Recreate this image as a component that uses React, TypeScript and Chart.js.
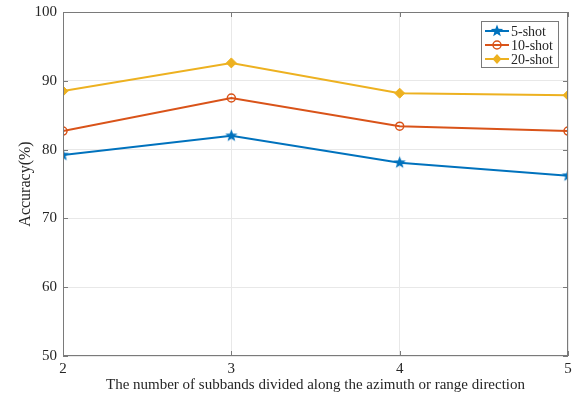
import React, { useEffect, useRef } from "react";
import { Chart, registerables } from "chart.js";

Chart.register(...registerables);

const xValues = [2, 3, 4, 5];
const shot5 = [79.2, 82.0, 78.1, 76.2];
const shot10 = [82.7, 87.5, 83.4, 82.7];
const shot20 = [88.5, 92.6, 88.2, 87.9];
const seriesLabels = ["5-shot", "10-shot", "20-shot"];
const colors = ["#0072BD", "#D95319", "#EDB120"];
const yTicks = [50, 60, 70, 80, 90, 100];

const FONT = "'Liberation Serif', 'Times New Roman', serif";

function makeStar(color: string, r: number) {
  const c = document.createElement("canvas");
  const s = Math.ceil(r * 2 + 2);
  c.width = s;
  c.height = s;
  const ctx = c.getContext("2d")!;
  const cx = s / 2, cy = s / 2;
  ctx.beginPath();
  for (let i = 0; i < 10; i++) {
    const rad = i % 2 === 0 ? r : r * 0.42;
    const a = -Math.PI / 2 + (i * Math.PI) / 5;
    const px = cx + rad * Math.cos(a);
    const py = cy + rad * Math.sin(a);
    if (i === 0) ctx.moveTo(px, py);
    else ctx.lineTo(px, py);
  }
  ctx.closePath();
  ctx.fillStyle = color;
  ctx.fill();
  return c;
}

function drawMarker(ctx: CanvasRenderingContext2D, kind: number, x: number, y: number, color: string) {
  ctx.save();
  ctx.strokeStyle = color;
  ctx.fillStyle = color;
  ctx.lineWidth = 1.5;
  if (kind === 0) {
    const r = 6.5;
    ctx.beginPath();
    for (let i = 0; i < 10; i++) {
      const rad = i % 2 === 0 ? r : r * 0.42;
      const a = -Math.PI / 2 + (i * Math.PI) / 5;
      const px = x + rad * Math.cos(a);
      const py = y + rad * Math.sin(a);
      if (i === 0) ctx.moveTo(px, py);
      else ctx.lineTo(px, py);
    }
    ctx.closePath();
    ctx.fill();
  } else if (kind === 1) {
    ctx.beginPath();
    ctx.arc(x, y, 4, 0, Math.PI * 2);
    ctx.stroke();
  } else {
    ctx.beginPath();
    ctx.moveTo(x, y - 5);
    ctx.lineTo(x + 4.5, y);
    ctx.lineTo(x, y + 5);
    ctx.lineTo(x - 4.5, y);
    ctx.closePath();
    ctx.fill();
  }
  ctx.restore();
}

const framePlugin = {
  id: "frame",
  afterDatasetsDraw(chart: any) {
    const { ctx, chartArea } = chart;
    const { left, right, top, bottom } = chartArea;
    ctx.save();
    ctx.strokeStyle = "#7a7a7a";
    ctx.lineWidth = 1;
    ctx.strokeRect(left + 0.5, top + 0.5, right - left - 1, bottom - top - 1);
    const xs = chart.scales.x;
    const ys = chart.scales.y;
    ctx.beginPath();
    xValues.forEach((v) => {
      const px = Math.round(xs.getPixelForValue(v)) + 0.5;
      ctx.moveTo(px, bottom);
      ctx.lineTo(px, bottom - 5);
      ctx.moveTo(px, top);
      ctx.lineTo(px, top + 5);
    });
    yTicks.forEach((v) => {
      const py = Math.round(ys.getPixelForValue(v)) + 0.5;
      ctx.moveTo(left, py);
      ctx.lineTo(left + 5, py);
      ctx.moveTo(right, py);
      ctx.lineTo(right - 5, py);
    });
    ctx.stroke();

    const bx = 481, by = 21, bw = 77, bh = 46;
    ctx.fillStyle = "#ffffff";
    ctx.fillRect(bx, by, bw, bh);
    ctx.strokeStyle = "#7a7a7a";
    ctx.strokeRect(bx + 0.5, by + 0.5, bw, bh);
    ctx.font = `14px ${FONT}`;
    ctx.textBaseline = "middle";
    seriesLabels.forEach((lab, i) => {
      const yy = by + 10 + i * 14;
      ctx.strokeStyle = colors[i];
      ctx.lineWidth = 2;
      ctx.beginPath();
      ctx.moveTo(bx + 4, yy);
      ctx.lineTo(bx + 28, yy);
      ctx.stroke();
      drawMarker(ctx, i, bx + 16, yy, colors[i]);
      ctx.fillStyle = "#262626";
      ctx.fillText(lab, bx + 30, yy + 1);
    });
    ctx.restore();
  },
};

export default function App() {
  const ref = useRef<HTMLCanvasElement | null>(null);
  useEffect(() => {
    document.body.style.margin = "0";
    const canvas = ref.current!;
    const star = makeStar(colors[0], 6.5);
    const mk = (vals: number[]) => vals.map((v, i) => ({ x: xValues[i], y: v }));
    const chart = new Chart(canvas, {
      type: "line",
      data: {
        datasets: [
          {
            label: seriesLabels[0],
            data: mk(shot5),
            borderColor: colors[0],
            backgroundColor: colors[0],
            borderWidth: 2,
            pointStyle: star as any,
            pointRadius: 6,
          },
          {
            label: seriesLabels[1],
            data: mk(shot10),
            borderColor: colors[1],
            backgroundColor: "rgba(0,0,0,0)",
            borderWidth: 2,
            pointStyle: "circle",
            pointRadius: 4,
            pointBorderWidth: 1.5,
          },
          {
            label: seriesLabels[2],
            data: mk(shot20),
            borderColor: colors[2],
            backgroundColor: colors[2],
            borderWidth: 2,
            pointStyle: "rectRot",
            pointRadius: 5,
            pointBorderWidth: 1,
          },
        ],
      },
      options: {
        animation: false,
        responsive: false,
        maintainAspectRatio: false,
        layout: { padding: { top: 12, right: 4, left: 0, bottom: 0 } },
        plugins: { legend: { display: false }, tooltip: { enabled: false } },
        scales: {
          x: {
            type: "linear",
            min: 2,
            max: 5,
            afterFit: (s: any) => {
              s.height = 41;
              s.paddingLeft = 0;
              s.paddingRight = 0;
            },
            afterBuildTicks: (s: any) => {
              s.ticks = xValues.map((v) => ({ value: v }));
            },
            ticks: {
              font: { family: FONT, size: 15 },
              color: "#262626",
              padding: 4,
            },
            grid: { color: "#e8e8e8", drawTicks: false },
            border: { display: false },
            title: {
              display: true,
              text: "The number of subbands divided along the azimuth or range direction",
              font: { family: FONT, size: 15 },
              color: "#262626",
              padding: { top: 0, bottom: 3 },
            },
          },
          y: {
            min: 50,
            max: 100,
            afterFit: (s: any) => {
              s.width = 63;
              s.paddingTop = 0;
              s.paddingBottom = 0;
            },
            afterBuildTicks: (s: any) => {
              s.ticks = yTicks.map((v) => ({ value: v }));
            },
            ticks: {
              font: { family: FONT, size: 15 },
              color: "#262626",
              padding: 6,
            },
            grid: { color: "#e8e8e8", drawTicks: false },
            border: { display: false },
            title: {
              display: true,
              text: "Accuracy(%)",
              font: { family: FONT, size: 16 },
              color: "#262626",
              padding: { top: 16, bottom: 4 },
            },
          },
        },
      },
      plugins: [framePlugin],
    });
    return () => chart.destroy();
  }, []);
  return (
    <div style={{ position: "absolute", left: 0, top: 0, width: 576, height: 397, background: "#fff" }}>
      <canvas ref={ref} width={576} height={397} style={{ display: "block" }} />
    </div>
  );
}
